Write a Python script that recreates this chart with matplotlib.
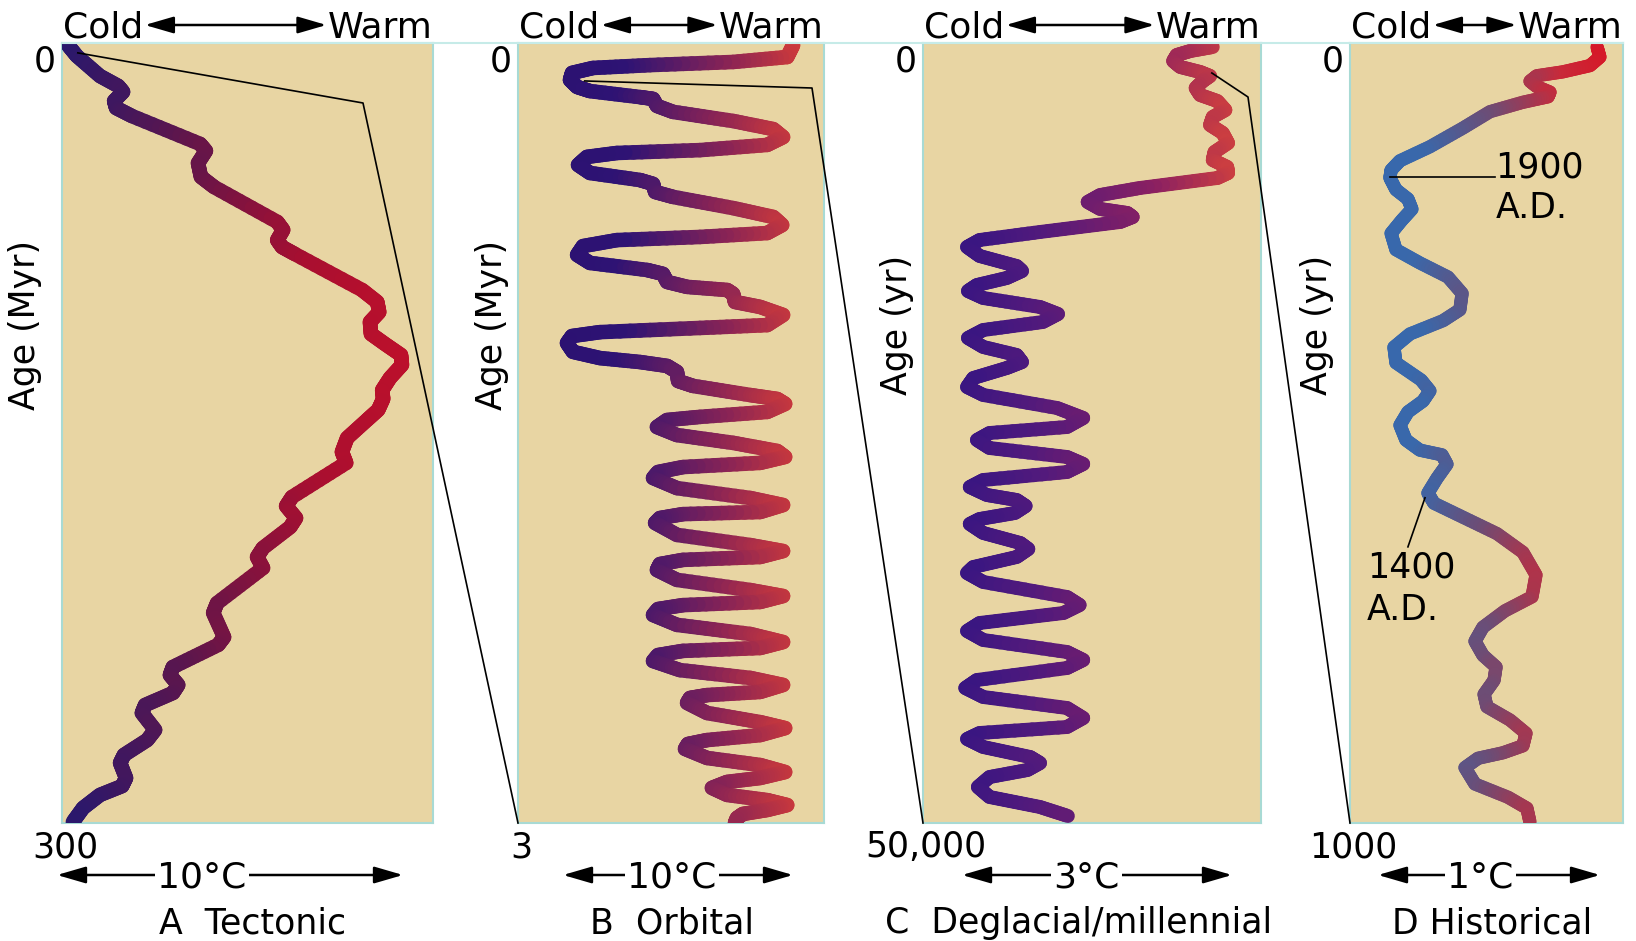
import numpy as np
import matplotlib
matplotlib.use('Agg')
import matplotlib.pyplot as plt
from matplotlib.collections import LineCollection
from matplotlib.colors import LinearSegmentedColormap, Normalize
from matplotlib.patches import FancyArrowPatch
from matplotlib.lines import Line2D

plt.rcParams['font.family'] = 'DejaVu Sans'

W, H = 1636, 941

# (temperature in degC from the cold edge, age)
tectonic = [(0.18, 0.8), (0.45, 5.0), (1.15, 12.7), (1.70, 16.5), (1.85, 18.8),
            (1.58, 22.3), (1.64, 25.0), (2.12, 28.1), (4.18, 38.8), (4.36, 41.5),
            (4.12, 46.2), (4.21, 51.5), (4.61, 55.4), (6.52, 68.8), (6.70, 71.9),
            (6.52, 75.8), (6.67, 78.5), (7.06, 81.2), (9.09, 95.0), (9.55, 99.6),
            (9.61, 103.5), (9.33, 107.3), (9.36, 111.9), (9.79, 115.8), (10.27, 120.0),
            (10.30, 123.8), (9.94, 128.8), (9.70, 133.5), (9.73, 136.9), (9.58, 141.1),
            (9.24, 145.0), (8.64, 151.9), (8.48, 157.3), (8.61, 161.5), (6.97, 174.6),
            (6.79, 178.1), (7.09, 182.7), (6.91, 186.2), (6.09, 194.2), (5.91, 197.7),
            (6.09, 201.9), (4.70, 215.4), (4.58, 219.2), (4.91, 228.5), (4.73, 231.5),
            (3.36, 240.0), (3.27, 243.1), (3.52, 246.9), (3.36, 250.0), (2.52, 254.6),
            (2.42, 257.7), (2.82, 264.2), (2.58, 268.1), (1.88, 273.8), (1.76, 276.9),
            (1.94, 282.7), (1.82, 285.8), (1.15, 289.2), (0.64, 294.2), (0.33, 299.6)]

orbital = [(11.96, 0.008), (11.70, 0.054), (9.35, 0.073), (5.74, 0.085), (3.26, 0.096),
           (2.35, 0.115), (2.26, 0.142), (2.57, 0.169), (3.13, 0.185), (5.30, 0.208),
           (5.87, 0.215), (6.04, 0.242), (6.74, 0.265), (9.35, 0.300), (11.09, 0.331),
           (11.52, 0.362), (10.83, 0.392), (7.91, 0.412), (4.30, 0.423), (3.00, 0.438),
           (2.61, 0.469), (3.13, 0.500), (5.30, 0.527), (5.87, 0.542), (5.96, 0.573),
           (6.74, 0.592), (9.35, 0.635), (11.09, 0.669), (11.48, 0.700), (10.83, 0.731),
           (7.91, 0.746), (4.30, 0.758), (2.83, 0.781), (2.57, 0.815), (3.13, 0.846),
           (5.61, 0.873), (6.30, 0.888), (6.48, 0.919), (7.35, 0.938), (9.09, 0.950),
           (9.35, 0.965), (9.43, 0.996), (10.52, 1.015), (11.52, 1.046), (10.83, 1.085),
           (7.91, 1.096), (3.57, 1.112), (2.35, 1.127), (2.13, 1.154), (2.39, 1.188),
           (3.57, 1.212), (5.30, 1.227), (6.48, 1.242), (6.91, 1.265), (6.96, 1.300),
           (7.61, 1.319), (10.09, 1.354), (11.26, 1.369), (11.61, 1.388), (10.83, 1.419),
           (7.91, 1.438), (6.48, 1.450), (6.04, 1.477), (6.91, 1.508), (9.35, 1.538),
           (11.26, 1.569), (11.61, 1.592), (10.52, 1.615), (7.17, 1.631), (6.09, 1.650),
           (5.87, 1.673), (6.91, 1.712), (10.09, 1.750), (11.52, 1.777), (10.52, 1.804),
           (7.17, 1.812), (6.17, 1.827), (5.96, 1.846), (6.91, 1.892), (10.09, 1.931),
           (11.52, 1.954), (10.52, 1.977), (7.17, 1.988), (6.17, 2.004), (6.04, 2.027),
           (6.91, 2.065), (10.09, 2.104), (11.52, 2.127), (10.52, 2.150), (7.17, 2.162),
           (6.09, 2.177), (5.87, 2.200), (6.91, 2.238), (10.09, 2.273), (11.52, 2.304),
           (10.52, 2.327), (7.17, 2.338), (6.09, 2.354), (5.87, 2.377), (7.04, 2.412),
           (10.09, 2.442), (11.52, 2.469), (10.52, 2.496), (8.22, 2.508), (7.48, 2.519),
           (7.35, 2.538), (8.22, 2.577), (10.52, 2.612), (11.61, 2.635), (10.52, 2.662),
           (8.22, 2.681), (7.39, 2.696), (7.26, 2.715), (8.22, 2.750), (10.52, 2.777),
           (11.61, 2.804), (10.52, 2.827), (9.09, 2.842), (8.43, 2.865), (9.09, 2.892),
           (10.83, 2.912), (11.70, 2.931), (10.83, 2.950), (9.78, 2.965), (9.52, 2.981),
           (9.43, 3.0)]

deglacial = [(3.22, 256), (2.97, 513), (2.82, 769), (2.78, 1154), (2.86, 1538),
             (3.08, 1859), (3.19, 2115), (3.11, 2436), (3.03, 2885), (3.08, 3333),
             (3.27, 3718), (3.36, 4295), (3.22, 4743), (3.19, 5256), (3.33, 5769),
             (3.39, 6410), (3.24, 6987), (3.22, 7500), (3.38, 7948), (3.39, 8333),
             (3.27, 8654), (2.41, 9295), (1.97, 9743), (1.83, 10192), (1.97, 10641),
             (2.27, 10897), (2.33, 11154), (2.19, 11474), (1.30, 12115), (0.63, 12628),
             (0.49, 13077), (0.63, 13654), (1.04, 14295), (1.10, 14615), (0.93, 15064),
             (0.60, 15513), (0.50, 15897), (0.67, 16346), (1.30, 16923), (1.50, 17372),
             (1.33, 17885), (0.67, 18397), (0.50, 18910), (0.67, 19487), (1.04, 20000),
             (1.10, 20449), (0.93, 20833), (0.56, 21474), (0.49, 22051), (0.67, 22564),
             (1.49, 23397), (1.78, 24038), (1.60, 24615), (0.74, 25000), (0.60, 25449),
             (0.74, 25962), (1.60, 26538), (1.78, 26987), (1.60, 27500), (0.67, 28013),
             (0.52, 28462), (0.71, 28974), (1.04, 29295), (1.14, 29679), (1.02, 30128),
             (0.63, 30513), (0.52, 30833), (0.67, 31410), (1.08, 32051), (1.17, 32436),
             (1.04, 32949), (0.56, 33590), (0.49, 33974), (0.67, 34551), (1.60, 35513),
             (1.74, 36026), (1.56, 36538), (0.63, 37179), (0.49, 37692), (0.67, 38269),
             (1.60, 39038), (1.78, 39551), (1.60, 40064), (0.60, 40833), (0.47, 41346),
             (0.67, 41923), (1.60, 42628), (1.78, 43269), (1.60, 43846), (0.63, 44231),
             (0.49, 44615), (0.67, 45128), (1.19, 45769), (1.30, 46154), (1.16, 46603),
             (0.74, 47051), (0.61, 47692), (0.74, 48333), (1.30, 48974), (1.61, 49551)]

historical = [(1.113, 5), (1.126, 18), (1.081, 29), (0.959, 37), (0.842, 42),
              (0.811, 49), (0.842, 56), (0.901, 63), (0.892, 69), (0.779, 76),
              (0.631, 88), (0.509, 109), (0.360, 133), (0.225, 151), (0.185, 163),
              (0.180, 173), (0.207, 188), (0.261, 200), (0.279, 213), (0.234, 227),
              (0.185, 244), (0.207, 265), (0.315, 282), (0.441, 300), (0.505, 321),
              (0.495, 342), (0.419, 356), (0.270, 373), (0.198, 390), (0.207, 410),
              (0.320, 432), (0.360, 446), (0.329, 459), (0.261, 473), (0.225, 490),
              (0.252, 509), (0.315, 522), (0.414, 528), (0.437, 540), (0.392, 558),
              (0.351, 577), (0.378, 590), (0.509, 608), (0.662, 629), (0.779, 653),
              (0.838, 682), (0.820, 710), (0.698, 728), (0.599, 749), (0.563, 767),
              (0.599, 785), (0.658, 800), (0.649, 817), (0.604, 835), (0.617, 851),
              (0.721, 868), (0.793, 885), (0.779, 901), (0.689, 910), (0.577, 917),
              (0.518, 929), (0.563, 950), (0.712, 967), (0.797, 981), (0.811, 999)]

panel_titles = ['A  Tectonic', 'B  Orbital', 'C  Deglacial/millennial', 'D Historical']
age_labels = ['Age (Myr)', 'Age (Myr)', 'Age (yr)', 'Age (yr)']
age_max = ['300', '3', '50,000', '1000']
scale_labels = ['10°C', '10°C', '3°C', '1°C']

# layout in pixels: panel left/right, scale-bar tips, scale text left, title centre
panels = [
    dict(pts=tectonic, x0=62, x1=433, tmax=11.24, amax=300, lw=10.5,
         colors=['#26186f', '#5e164c', '#a80f30', '#c2102a'],
         bar=(57, 403), bar_txt=157, title_x=253, ylab_x=25),
    dict(pts=orbital, x0=518, x1=824, tmax=13.3, amax=3, lw=10.5,
         colors=['#2a1070', '#2e1374', '#8a2455', '#ea4330'],
         bar=(563, 793), bar_txt=627, title_x=672, ylab_x=492),
    dict(pts=deglacial, x0=923, x1=1261, tmax=3.756, amax=50000, lw=10,
         colors=['#2a1385', '#521a7c', '#8a2062', '#e64a33'],
         bar=(962, 1232), bar_txt=1053, title_x=1079, ylab_x=897),
    dict(pts=historical, x0=1350, x1=1623, tmax=1.23, amax=1000, lw=9.5,
         colors=['#3468b0', '#3a68aa', '#6e4c74', '#c82a3a', '#dc1020'],
         bar=(1378, 1600), bar_txt=1447, title_x=1492, ylab_x=1317),
]

TOP, BOT = 43, 823
PANEL_BG = '#e8d5a3'
EDGE = '#a8dad4'
ARROW = '<|-|>,head_length=1.1,head_width=0.32'

fig = plt.figure(figsize=(W / 100, H / 100), dpi=100)
fig.patch.set_facecolor('white')


def fx(x):
    return x / W


def fy(y):
    return 1 - y / H


def gradient_line(ax, pts, cmap, tmax, lw):
    t = np.array([p[0] for p in pts])
    a = np.array([p[1] for p in pts])
    # split every straight piece so the colour can follow temperature along it
    xs, ys = [], []
    for i in range(len(t) - 1):
        f = np.linspace(0, 1, 10, endpoint=False)
        xs.append(t[i] + f * (t[i + 1] - t[i]))
        ys.append(a[i] + f * (a[i + 1] - a[i]))
    xs.append(t[-1:])
    ys.append(a[-1:])
    xs = np.concatenate(xs)
    ys = np.concatenate(ys)
    segs = np.stack([np.column_stack([xs[:-1], ys[:-1]]),
                     np.column_stack([xs[1:], ys[1:]])], axis=1)
    lc = LineCollection(segs, cmap=cmap, norm=Normalize(0, tmax), linewidths=lw,
                        capstyle='round', joinstyle='round', zorder=3)
    lc.set_array((xs[:-1] + xs[1:]) / 2)
    ax.add_collection(lc)


axes = []
for i, p in enumerate(panels):
    ax = fig.add_axes([fx(p['x0']), fy(BOT), (p['x1'] - p['x0']) / W, (BOT - TOP) / H])
    ax.set_facecolor(PANEL_BG)
    ax.set_xlim(0, p['tmax'])
    ax.set_ylim(p['amax'], 0)
    ax.set_xticks([])
    ax.set_yticks([])
    for s in ax.spines.values():
        s.set_color(EDGE)
        s.set_linewidth(1.5)
    cmap = LinearSegmentedColormap.from_list('c%d' % i, p['colors'])
    gradient_line(ax, p['pts'], cmap, p['tmax'], p['lw'])
    axes.append(ax)

    # tick labels at the top and bottom of the age axis
    fig.text(fx(p['x0'] - 6), fy(72), '0', ha='right', va='baseline', fontsize=25)
    fig.text(fx(p['x0'] + 3), fy(857), age_max[i], ha='center', va='baseline', fontsize=25)
    fig.text(fx(p['ylab_x']), fy(325), age_labels[i], rotation=90,
             ha='center', va='center', fontsize=25)
    fig.text(fx(p['title_x']), fy(933), panel_titles[i], ha='center', va='baseline',
             fontsize=25)

# thin line along the tops of the panels
fig.add_artist(Line2D([fx(62), fx(1623)], [fy(43), fy(43)], color='#c6ebe8', lw=1.5))

renderer = fig.canvas.get_renderer()
inv = fig.transFigure.inverted()

for i, p in enumerate(panels):
    # Cold <-> Warm header
    tc = fig.text(fx(p['x0'] + 1), fy(37), 'Cold', ha='left', va='baseline', fontsize=26)
    tw = fig.text(fx(p['x1']), fy(37), 'Warm', ha='right', va='baseline', fontsize=26)
    bc = inv.transform(tc.get_window_extent(renderer).get_points())
    bw = inv.transform(tw.get_window_extent(renderer).get_points())
    arr = FancyArrowPatch((bc[1, 0] + 0.001, fy(25)), (bw[0, 0] - 0.001, fy(25)),
                          transform=fig.transFigure, arrowstyle=ARROW,
                          mutation_scale=16, lw=1.8, color='black', shrinkA=0, shrinkB=0)
    fig.add_artist(arr)

    # temperature scale bar under each panel
    b0, b1 = p['bar']
    arr = FancyArrowPatch((fx(b0), fy(875)), (fx(b1), fy(875)), transform=fig.transFigure,
                          arrowstyle=ARROW, mutation_scale=16, lw=1.8, color='black',
                          shrinkA=0, shrinkB=0)
    fig.add_artist(arr)
    fig.text(fx(p['bar_txt']), fy(887), scale_labels[i], ha='left', va='baseline',
             fontsize=26, zorder=5,
             bbox=dict(facecolor='white', edgecolor='none', pad=1.5))


def data_to_fig(ax, xy):
    return inv.transform(ax.transData.transform(xy))


def axes_to_fig(ax, xy):
    return inv.transform(ax.transAxes.transform(xy))


# zoom connectors from each record into the next, finer one
connectors = [(0, (0.48, 3.8), (363, 103)),
              (1, (2.9, 0.146), (812, 88)),
              (2, (3.21, 1923), (1248, 97))]
for k, start, kink in connectors:
    s = data_to_fig(axes[k], start)
    e = axes_to_fig(axes[k + 1], (0, 0))
    fig.add_artist(Line2D([s[0], fx(kink[0]), e[0]], [s[1], fy(kink[1]), e[1]],
                          color='black', lw=1.2, zorder=6))

# historical annotations
axD = axes[3]
axD.plot([0.18, 0.655], [172, 172], color='black', lw=1.2, zorder=4)
axD.text(0.655, 172, '1900', ha='left', va='baseline', fontsize=25, zorder=5)
axD.text(0.655, 224, 'A.D.', ha='left', va='baseline', fontsize=25, zorder=5)
axD.plot([0.338, 0.261], [583, 646], color='black', lw=1.2, zorder=4)
axD.text(0.077, 685, '1400', ha='left', va='baseline', fontsize=25, zorder=5)
axD.text(0.077, 740, 'A.D.', ha='left', va='baseline', fontsize=25, zorder=5)

fig.savefig('out.png', dpi=100)
